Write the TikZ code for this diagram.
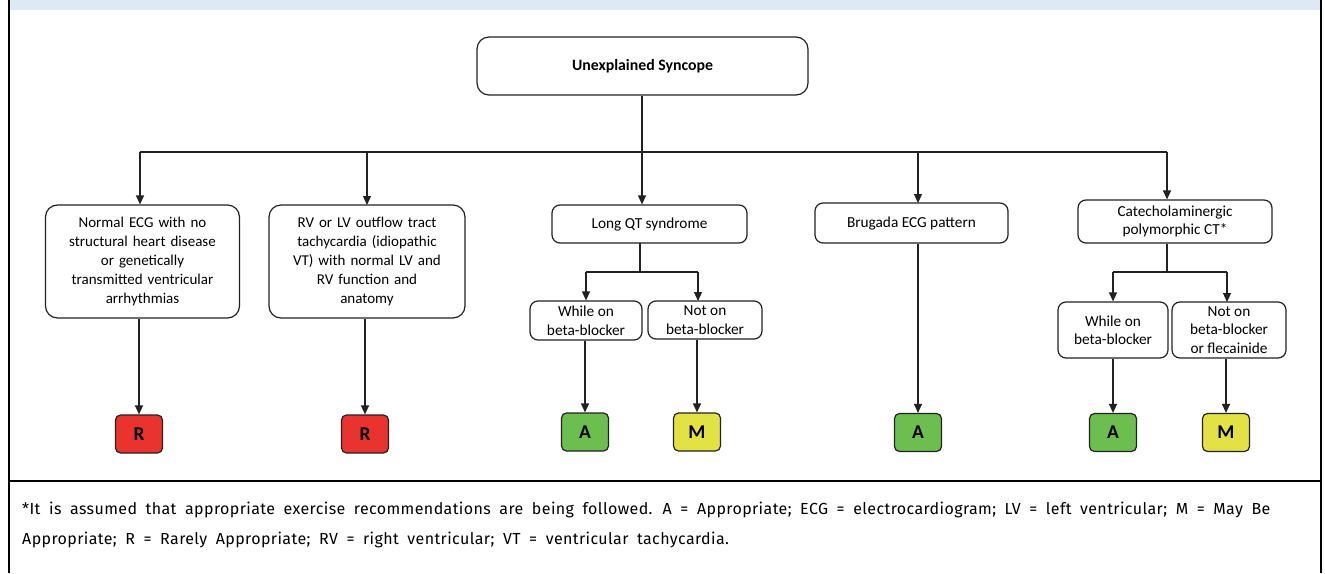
\documentclass[tikz,border=0pt]{standalone}
\usepackage{fontspec}
\setmainfont{Carlito}
\newfontfamily\fnfont[LetterSpace=2.5,WordSpace=1.85]{Fira Sans}
\usetikzlibrary{arrows.meta}
\definecolor{bandblue}{HTML}{DDE9F5}
\definecolor{ratered}{HTML}{E8332F}
\definecolor{rategreen}{HTML}{6CBE4F}
\definecolor{rateyellow}{HTML}{E3E244}
\definecolor{linegray}{HTML}{222222}
\tikzset{
  bigbox/.style={draw=linegray, line width=1.2pt, rounded corners=12pt, fill=white, align=center, inner sep=2pt, font=\fontsize{15}{19}\selectfont},
  smallbox/.style={draw=linegray, line width=1.2pt, rounded corners=8pt, fill=white, align=center, inner sep=2pt, font=\fontsize{15.3}{18.5}\selectfont},
  ratebox/.style={draw=linegray, line width=1.2pt, rounded corners=5pt, minimum width=47pt, minimum height=38pt, inner sep=0pt, font=\fontsize{19.5}{19.5}\selectfont\bfseries},
  conn/.style={draw=linegray, line width=1.2pt},
  arr/.style={conn, -{Triangle[length=9pt,width=8pt]}},
  frameline/.style={draw=black, line width=2.4pt}
}
\begin{document}
\begin{tikzpicture}[x=1pt,y=-1pt]
\useasboundingbox (0,0) rectangle (1325,573);
\fill[white] (0,0) rectangle (1325,573);
\fill[bandblue] (9,0) rectangle (1321,10);
\draw[frameline] (9,0) -- (9,573);
\draw[frameline] (1321,0) -- (1321,573);
\draw[frameline] (9,481) -- (1321,481);

% top
\node[bigbox, minimum width=331pt, minimum height=58pt, font=\fontsize{15.8}{18}\selectfont\bfseries] (top) at (642.5,66) {Unexplained Syncope};

% level 1
\node[bigbox, minimum width=194pt, minimum height=113pt, text width=186pt] (b1) at (142.5,261.5) {Normal ECG with no\\structural heart disease\\or genetically\\transmitted ventricular\\arrhythmias};
\node[bigbox, minimum width=196pt, minimum height=113pt, text width=188pt] (b2) at (367,261.5) {RV or LV outflow tract\\tachycardia (idiopathic\\VT) with normal LV and\\RV function and\\anatomy};
\node[smallbox, minimum width=195pt, minimum height=38pt] (lqt) at (649.5,224) {Long QT syndrome};
\node[smallbox, minimum width=193pt, minimum height=40pt] (bru) at (911.5,223) {Brugada ECG pattern};
\node[smallbox, minimum width=194pt, minimum height=43pt] (cat) at (1175,221.5) {Catecholaminergic\\polymorphic CT*};

% level 2
\node[smallbox, minimum width=112pt, minimum height=39pt] (lw) at (586,320.5) {While on\\beta-blocker};
\node[smallbox, minimum width=114pt, minimum height=38pt] (ln) at (705,320) {Not on\\beta-blocker};
\node[smallbox, minimum width=110pt, minimum height=56pt] (cw) at (1113,330) {While on\\beta-blocker};
\node[smallbox, minimum width=114pt, minimum height=56pt] (cn) at (1229,330) {Not on\\beta-blocker\\or flecainide};

% ratings
\node[ratebox, fill=ratered] (r1) at (139,434) {R};
\node[ratebox, fill=ratered] (r2) at (365,434) {R};
\node[ratebox, fill=rategreen] (a1) at (585,432) {A};
\node[ratebox, fill=rateyellow] (m1) at (697,432) {M};
\node[ratebox, fill=rategreen] (a2) at (918,432.5) {A};
\node[ratebox, fill=rategreen] (a3) at (1113,432.5) {A};
\node[ratebox, fill=rateyellow] (m2) at (1226,432.5) {M};

% bus
\coordinate (bus) at (642,152);
\coordinate (busL) at (140,152);
\coordinate (busR) at (1167,152);
\draw[conn] (top.south -| bus) -- (bus);
\draw[conn] (busL) -- (busR);
\draw[arr] (busL) -- (busL |- b1.north);
\draw[arr] (367,152) -- (367,205);
\draw[arr] (bus) -- (bus |- lqt.north);
\draw[arr] (918,152) -- (918,203);
\draw[arr] (busR) -- (busR |- cat.north);

% LQT split
\coordinate (ls) at (640,272);
\draw[conn] (640,243) -- (ls);
\draw[conn] (586,272) -- (698,272);
\draw[arr] (586,272) -- (lw.north);
\draw[arr] (698,272) -- (698,301);

% CPVT split
\coordinate (cs) at (1167,272);
\draw[conn, line width=2pt] (cat.south -| cs) -- (cs);
\draw[conn] (1113,272) -- (1227,272);
\draw[arr] (1113,272) -- (cw.north);
\draw[arr] (1227,272) -- (1227,302);

% down to ratings
\draw[arr] (r1.north |- b1.south) -- (r1.north);
\draw[arr] (r2.north |- b2.south) -- (r2.north);
\draw[arr] (a1.north |- lw.south) -- (a1.north);
\draw[arr] (m1.north |- ln.south) -- (m1.north);
\draw[arr] (a2.north |- bru.south) -- (a2.north);
\draw[arr] (a3.north |- cw.south) -- (a3.north);
\draw[arr] (m2.north |- cn.south) -- (m2.north);

% footnote
\node[anchor=west, inner sep=0pt, font=\fnfont\fontsize{16}{30}\selectfont, align=left] (fn) at (22,525) {*It is assumed that appropriate exercise recommendations are being followed. A = Appropriate; ECG = electrocardiogram; LV = left ventricular; M = May Be\\Appropriate; R = Rarely Appropriate; RV = right ventricular; VT = ventricular tachycardia.};
\end{tikzpicture}
\end{document}
